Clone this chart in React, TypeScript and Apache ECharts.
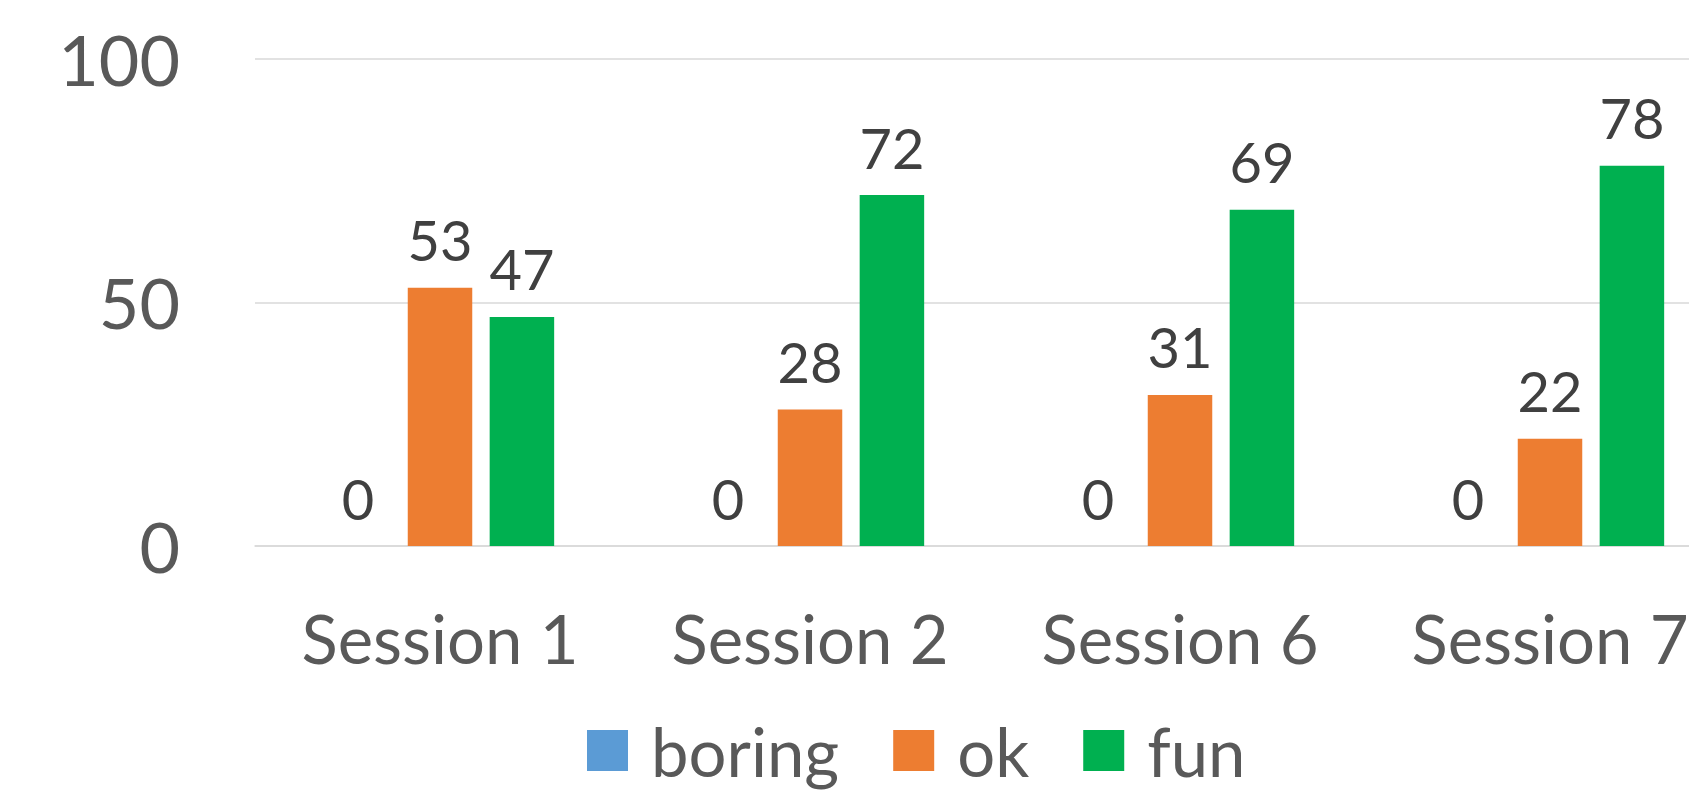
import React, { useEffect, useRef } from "react";
import * as echarts from "echarts";

const categories = ["Session 1", "Session 2", "Session 6", "Session 7"];
const seriesNames = ["boring", "ok", "fun"];
const boringValues = [0, 0, 0, 0];
const okValues = [53, 28, 31, 22];
const funValues = [47, 72, 69, 78];
const colors = ["#5B9BD5", "#ED7D31", "#00B050"];

const FONT = "Lato";

export default function App() {
  const ref = useRef<HTMLDivElement>(null);
  useEffect(() => {
    if (!ref.current) return;
    const chart = echarts.init(ref.current, null, { renderer: "svg" });
    const dataSets = [boringValues, okValues, funValues];
    chart.setOption({
      animation: false,
      backgroundColor: "#ffffff",
      grid: {
        left: 255,
        right: -46,
        top: 58.5,
        bottom: 244,
        containLabel: false,
        outerBoundsMode: "none",
      },
      legend: {
        left: 587,
        top: 717,
        padding: 0,
        itemWidth: 41,
        itemHeight: 41,
        itemGap: 54,
        icon: "rect",
        textStyle: {
          fontFamily: FONT,
          fontSize: 67,
          color: "#595959",
          padding: [0, 0, 0, 18],
        },
        data: seriesNames,
      },
      xAxis: {
        type: "category",
        data: categories,
        axisLine: { show: true, lineStyle: { color: "#D9D9D9", width: 1.5 } },
        axisTick: { show: false },
        axisLabel: {
          fontFamily: FONT,
          fontSize: 67,
          color: "#595959",
          margin: 58,
          interval: 0,
        },
      },
      yAxis: {
        type: "value",
        min: 0,
        max: 100,
        interval: 50,
        axisLine: { show: false },
        axisTick: { show: false },
        splitLine: { lineStyle: { color: "#D9D9D9", width: 1.5 } },
        axisLabel: {
          fontFamily: FONT,
          fontSize: 70,
          color: "#595959",
          margin: 75,
        },
      },
      series: seriesNames.map((name, i) => ({
        name,
        type: "bar",
        data: dataSets[i],
        barWidth: 64.5,
        barGap: "27%",
        itemStyle: { color: colors[i] },
        label: {
          show: true,
          position: "top",
          distance: 20,
          fontFamily: FONT,
          fontSize: 56,
          color: "#404040",
        },
      })),
    });
    return () => chart.dispose();
  }, []);
  return (
    <div
      ref={ref}
      style={{ position: "absolute", left: 0, top: 0, width: 1689, height: 790 }}
    />
  );
}
